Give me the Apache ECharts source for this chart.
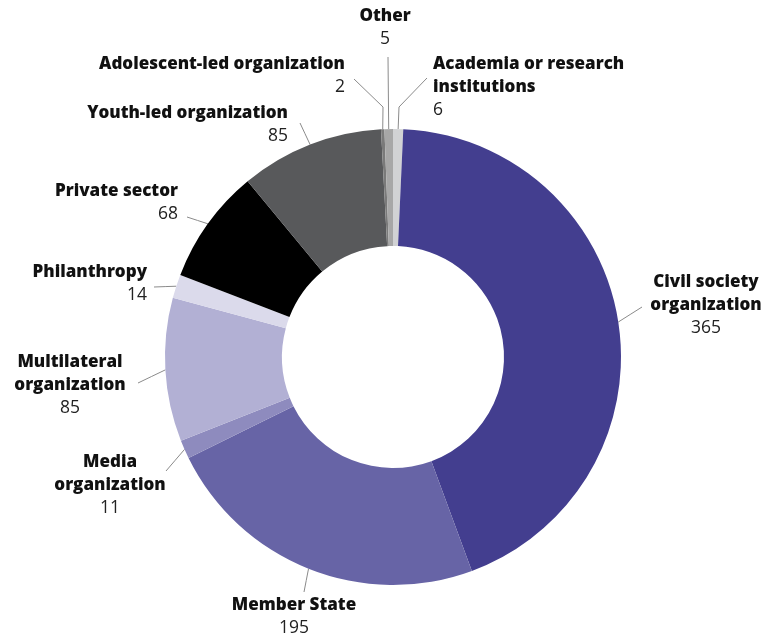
<!DOCTYPE html>
<html><head><meta charset="utf-8">
<script src="https://cdn.jsdelivr.net/npm/echarts@6/dist/echarts.min.js"></script>
<style>html,body{margin:0;padding:0;background:#fff}#c{width:763px;height:635px}</style>
</head><body><div id="c"></div>
<script>
const categories = ['Academia or research\ninstitutions','Civil society\norganization','Member State','Media\norganization','Multilateral\norganization','Philanthropy','Private sector','Youth-led organization','Adolescent-led organization','Other'];
const values = [6,365,195,11,85,14,68,85,2,5];
const colors = ['#d1d2d4','#433e8f','#6764a6','#8e8bbe','#b2b0d4','#dbdaeb','#000000','#58595b','#7a7a7a','#a7a7a7'];

// label placement (text anchor, alignment, line bend/end)
const labelSpec = [
  {x:433,y:53,align:'left',  pts:[[399,107],[427,78]]},
  {x:706,y:271,align:'center',pts:[[642,307]]},
  {x:294,y:594,align:'center',pts:[[304,592]]},
  {x:110,y:451,align:'center',pts:[[166,471]]},
  {x:70, y:351,align:'center',pts:[[138,383]]},
  {x:147,y:261,align:'right', pts:[[154,287]]},
  {x:178,y:180,align:'right', pts:[[187,217]]},
  {x:288,y:102,align:'right', pts:[[300,123]]},
  {x:345,y:53, align:'right', pts:[[383,107],[354,79]]},
  {x:385,y:5,  align:'center',pts:[[388,57]]}
];

const chart = echarts.init(document.getElementById('c'), null, {renderer:'canvas'});
chart.setOption({
  animation:false,
  color: colors,
  series:[{
    type:'pie',
    center:[393,357],
    radius:[111,228],
    startAngle:90,
    clockwise:true,
    avoidLabelOverlap:false,
    data: categories.map((n,i)=>({name:n,value:values[i]})),
    label:{
      show:true,
      position:'outside',
      formatter: p => p.name.split('\n').map(s=>'{n|'+s+'}').join('\n') + '\n{v|' + p.value + '}',
      rich:{
        n:{fontFamily:'Open Sans',fontWeight:800,fontSize:17,color:'#111',lineHeight:23},
        v:{fontFamily:'Open Sans',fontWeight:'normal',fontSize:17.5,color:'#222',lineHeight:23}
      }
    },
    labelLine:{show:true,length:5,length2:5,lineStyle:{color:'#8a8a8a',width:1}},
    labelLayout: function(params){
      const s = labelSpec[params.dataIndex];
      const p0 = params.labelLinePoints ? params.labelLinePoints[0] : null;
      const out = {x:s.x,y:s.y,align:s.align,verticalAlign:'top'};
      if (p0) {
        const pts = [p0].concat(s.pts);
        if (pts.length === 2) pts.splice(1,0,[(pts[0][0]+pts[1][0])/2,(pts[0][1]+pts[1][1])/2]);
        out.labelLinePoints = pts;
      }
      return out;
    }
  }]
});
</script></body></html>
